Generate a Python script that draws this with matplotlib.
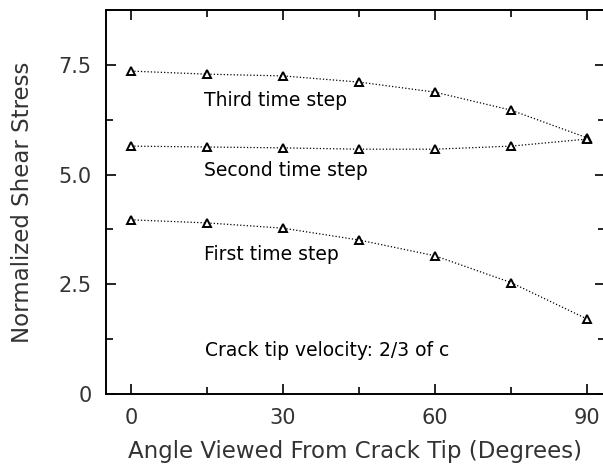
import numpy as np
import matplotlib.pyplot as plt
from matplotlib.ticker import MultipleLocator

# angles (degrees) and normalized shear stress
angle = [0, 15, 30, 45, 60, 75, 90]
third_step = [7.36, 7.29, 7.25, 7.11, 6.88, 6.47, 5.84]
second_step = [5.65, 5.63, 5.61, 5.58, 5.58, 5.65, 5.81]
first_step = [3.97, 3.90, 3.78, 3.51, 3.15, 2.54, 1.71]

x_ticks = [0, 30, 60, 90]
y_ticks = [0, 2.5, 5.0, 7.5]
y_tick_labels = ['0', '2.5', '5.0', '7.5']

fig = plt.figure(figsize=(6.03, 4.68), dpi=100)
ax = fig.add_axes([0.1752, 0.1581, 0.8277, 0.8203])

for ys in (third_step, second_step, first_step):
    ax.plot(angle, ys, ls=':', color='black', lw=0.9)
    ax.plot(angle, ys, ls='none', marker='^', ms=5.5, mfc='white',
            mec='black', mew=1.4)

ax.text(14.5, 6.70, 'Third time step', fontsize=13.5, va='center')
ax.text(14.5, 5.10, 'Second time step', fontsize=13.5, va='center')
ax.text(14.5, 3.19, 'First time step', fontsize=13.5, va='center')
ax.text(14.7, 1.00, 'Crack tip velocity: 2/3 of c', fontsize=13.5, va='center')

ax.set_xlim(-5, 93.5)
ax.set_ylim(0, 8.75)
ax.set_xticks(x_ticks)
ax.xaxis.set_minor_locator(MultipleLocator(15))
ax.set_yticks(y_ticks)
ax.set_yticklabels(y_tick_labels)
ax.yaxis.set_minor_locator(MultipleLocator(1.25))
ax.tick_params(which='both', direction='in', top=True, right=True,
               width=1.2, colors='black', labelcolor='#333333',
               labelsize=15, pad=10)
ax.tick_params(which='major', length=7)
ax.tick_params(which='minor', length=5)
for s in ax.spines.values():
    s.set_linewidth(1.4)

ax.set_xlabel('Angle Viewed From Crack Tip (Degrees)', fontsize=16.5,
              color='#333333', labelpad=9)
ax.set_ylabel('Normalized Shear Stress', fontsize=16.5, color='#333333',
              labelpad=18)

fig.savefig('out.png', dpi=100)
